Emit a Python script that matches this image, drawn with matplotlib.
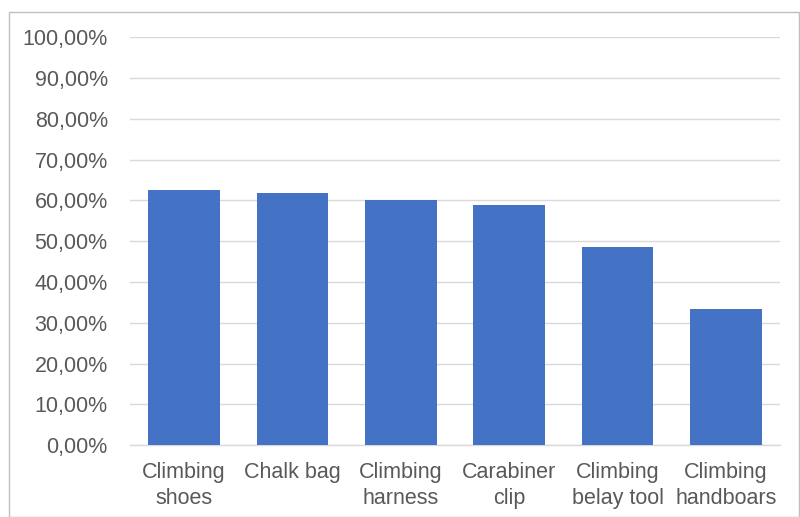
import matplotlib.pyplot as plt
from matplotlib.ticker import FuncFormatter
from matplotlib.patches import Rectangle

# product share of respondents
products = ["Climbing\nshoes", "Chalk bag", "Climbing\nharness", "Carabiner\nclip",
            "Climbing\nbelay tool", "Climbing\nhandboars"]
shares = [62.5, 61.8, 60.1, 58.8, 48.6, 33.4]
y_ticks = [0, 10, 20, 30, 40, 50, 60, 70, 80, 90, 100]

bar_color = "#4472C4"
grid_color = "#D9D9D9"
text_color = "#595959"

plt.rcParams["font.family"] = ["Liberation Sans", "DejaVu Sans"]

fig = plt.figure(figsize=(8, 5.17), dpi=100)
ax = fig.add_axes([0.1625, 0.139, 0.8125, 0.789])

x = range(len(products))
ax.bar(x, shares, width=0.66, color=bar_color, zorder=3)

ax.set_xlim(-0.5, len(products) - 0.5)
ax.set_ylim(0, 100)
ax.set_yticks(y_ticks)
ax.yaxis.set_major_formatter(FuncFormatter(lambda v, _: f"{v:.2f}%".replace(".", ",")))
ax.set_xticks(list(x))
ax.set_xticklabels(products, linespacing=1.3)

ax.grid(axis="y", color=grid_color, linewidth=1.0, zorder=0)
ax.tick_params(length=0, labelsize=15.5, labelcolor=text_color)
ax.tick_params(axis="y", pad=16)
ax.tick_params(axis="x", pad=12)

for side in ["top", "right", "left"]:
    ax.spines[side].set_visible(False)
ax.spines["bottom"].set_color(grid_color)
ax.spines["bottom"].set_linewidth(1.0)

# chart frame
fig.patches.append(Rectangle((9 / 800, 0), 790 / 800, 1 - 12 / 517,
                             transform=fig.transFigure, fill=False,
                             edgecolor="#BFBFBF", linewidth=1.0))

fig.savefig("out.png", dpi=100)
